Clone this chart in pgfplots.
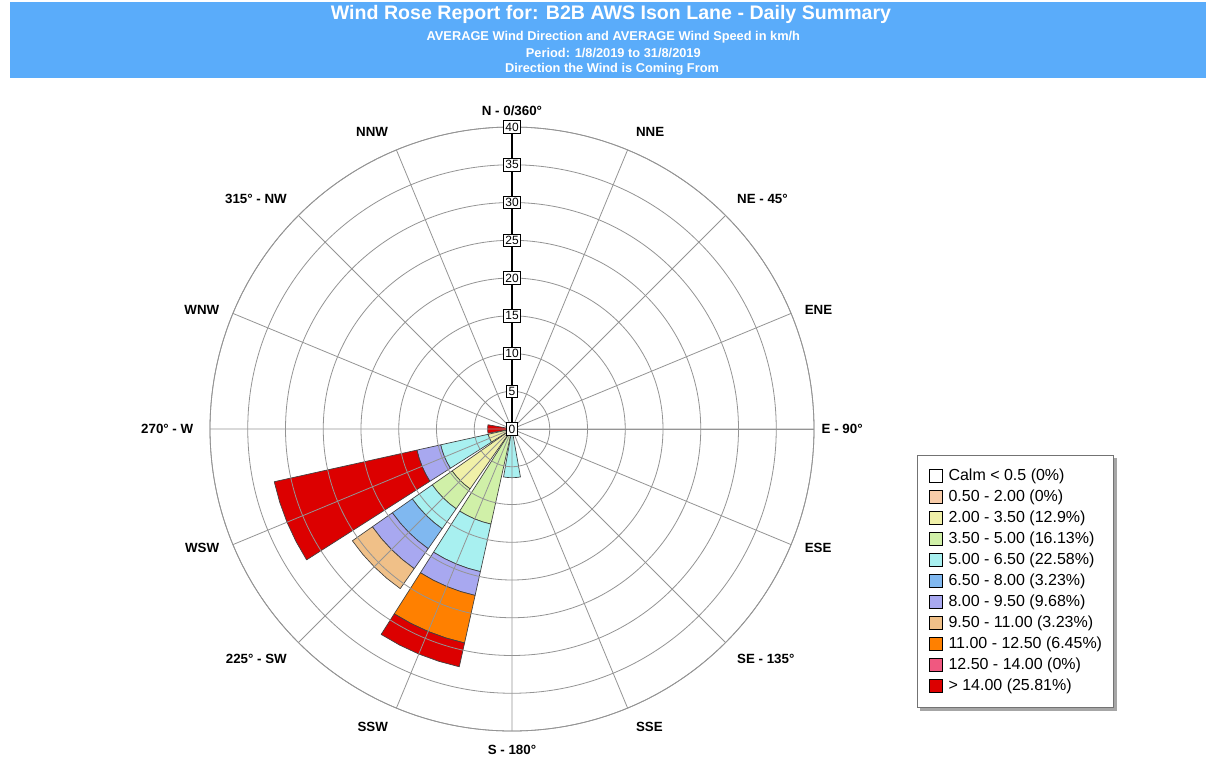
\documentclass[border=0pt]{standalone}
\usepackage{fontspec}
\setmainfont{Liberation Sans}
\usepackage{pgfplots}
\usepackage{pgfplotstable}
\pgfplotsset{compat=1.18}
\usepgfplotslibrary{polar}

\definecolor{band}{RGB}{90,172,250}
\definecolor{cCalm}{RGB}{255,255,255}
\definecolor{cA}{RGB}{248,204,168}
\definecolor{cB}{RGB}{240,240,168}
\definecolor{cC}{RGB}{208,240,168}
\definecolor{cD}{RGB}{168,240,240}
\definecolor{cE}{RGB}{128,184,240}
\definecolor{cF}{RGB}{168,168,240}
\definecolor{cG}{RGB}{240,192,136}
\definecolor{cH}{RGB}{255,128,0}
\definecolor{cI}{RGB}{240,88,128}
\definecolor{cJ}{RGB}{220,0,0}

% outline of one wedge segment: angular offset (deg) and inner(0)/outer(1) edge
\pgfplotstableread{
da w
-10 0
-10 1
-5 1
0 1
5 1
10 1
10 0
5 0
0 0
-5 0
-10 0
}\wedgeshape

% \seg{colour}{compass direction}{from %}{to %}
\newcommand\seg[4]{%
  \addplot[fill=#1, draw=black!75, line width=0.5pt, line join=round, forget plot]
    table[x expr={450-#2+(\thisrow{da})}, y expr={#3+\thisrow{w}*(#4-#3)}]{\wedgeshape};}

\begin{document}
\begin{tikzpicture}
\useasboundingbox (0,0) rectangle (904.5pt,-570pt);
\fill[band] (7.5pt,-1.5pt) rectangle (904.5pt,-58.5pt);
\node[text=white, font=\bfseries\fontsize{14.7}{16}\selectfont] at (458.25pt,-10.5pt) {Wind Rose Report for: B2B AWS Ison Lane - Daily Summary};
\node[text=white, font=\bfseries\fontsize{9.6}{11}\selectfont] at (460pt,-27.75pt) {AVERAGE Wind Direction and AVERAGE Wind Speed in km/h};
\node[text=white, font=\bfseries\fontsize{9.6}{11}\selectfont] at (460pt,-39.75pt) {Period: 1/8/2019 to 31/8/2019};
\node[text=white, font=\bfseries\fontsize{9.6}{11}\selectfont] at (459pt,-51.75pt) {Direction the Wind is Coming From};

\begin{polaraxis}[
  at={(384pt,-321.75pt)}, anchor=center,
  scale only axis, width=453pt, height=453pt,
  xmin=0, xmax=360, ymin=0, ymax=40,
  xtick={0,22.5,...,337.5}, ytick={5,10,...,40},
  xticklabel=\empty, yticklabel=\empty,
  major tick length=0pt,
  grid=major,
  major grid style={black!42, line width=0.6pt},
  axis line style={black!42, line width=0.6pt},
  axis on top, clip=false,
  legend cell align=left,
  legend image code/.code={\draw[#1, draw=black, line width=0.6pt] (0pt,-4.875pt) rectangle (9.75pt,4.875pt);},
  legend style={name=L, at={(1.1705,0.457)}, anchor=north west,
    draw=black!55, line width=0.6pt, fill=white,
    inner xsep=8.5pt, inner ysep=9.75pt, row sep=3.75pt,
    font=\fontsize{12}{14}\selectfont,
    nodes={inner sep=0pt, text height=9pt, text depth=3pt},
    /tikz/every odd column/.append style={column sep=4.5pt}},
]
\addlegendimage{fill=cCalm}\addlegendentry{Calm < 0.5 (0\%)}
\addlegendimage{fill=cA}\addlegendentry{0.50 - 2.00 (0\%)}
\addlegendimage{fill=cB}\addlegendentry{2.00 - 3.50 (12.9\%)}
\addlegendimage{fill=cC}\addlegendentry{3.50 - 5.00 (16.13\%)}
\addlegendimage{fill=cD}\addlegendentry{5.00 - 6.50 (22.58\%)}
\addlegendimage{fill=cE}\addlegendentry{6.50 - 8.00 (3.23\%)}
\addlegendimage{fill=cF}\addlegendentry{8.00 - 9.50 (9.68\%)}
\addlegendimage{fill=cG}\addlegendentry{9.50 - 11.00 (3.23\%)}
\addlegendimage{fill=cH}\addlegendentry{11.00 - 12.50 (6.45\%)}
\addlegendimage{fill=cI}\addlegendentry{12.50 - 14.00 (0\%)}
\addlegendimage{fill=cJ}\addlegendentry{> 14.00 (25.81\%)}

% W
\seg{cJ}{270}{0}{3.23}
% WSW
\seg{cB}{247.5}{0}{3.23}
\seg{cD}{247.5}{3.23}{9.68}
\seg{cF}{247.5}{9.68}{12.90}
\seg{cJ}{247.5}{12.90}{32.26}
% SW
\seg{cB}{225}{0}{9.68}
\seg{cC}{225}{9.68}{12.90}
\seg{cD}{225}{12.90}{16.13}
\seg{cE}{225}{16.13}{19.35}
\seg{cF}{225}{19.35}{22.58}
\seg{cG}{225}{22.58}{25.81}
% SSW
\seg{cC}{202.5}{0}{12.90}
\seg{cD}{202.5}{12.90}{19.35}
\seg{cF}{202.5}{19.35}{22.58}
\seg{cH}{202.5}{22.58}{29.03}
\seg{cJ}{202.5}{29.03}{32.26}
% S
\seg{cD}{180}{0}{6.45}

\pgfplotsinvokeforeach{0,5,...,40}{\coordinate (r#1) at (axis cs:90,#1);}

\begin{scope}[font=\bfseries\fontsize{10}{12}\selectfont]
\node[anchor=south] at (axis cs:90,40.9) {N - 0/360°};
\node[anchor=south west] at (axis cs:67.5,41.3) {NNE};
\node[anchor=south west] at (axis cs:45,41.3) {NE - 45°};
\node[anchor=west] at (axis cs:22.5,41.3) {ENE};
\node[anchor=west] at (axis cs:0,40.4) {E - 90°};
\node[anchor=west] at (axis cs:337.5,41.3) {ESE};
\node[anchor=north west] at (axis cs:315,41.3) {SE - 135°};
\node[anchor=north west] at (axis cs:292.5,41.3) {SSE};
\node[anchor=north] at (axis cs:270,41.3) {S - 180°};
\node[anchor=north east] at (axis cs:247.5,41.3) {SSW};
\node[anchor=north east] at (axis cs:225,41.3) {225° - SW};
\node[anchor=east] at (axis cs:202.5,41.3) {WSW};
\node[anchor=east] at (axis cs:180,41.6) {270° - W};
\node[anchor=east] at (axis cs:157.5,41.3) {WNW};
\node[anchor=south east] at (axis cs:135,41.3) {315° - NW};
\node[anchor=south east] at (axis cs:112.5,41.3) {NNW};
\end{scope}
\end{polaraxis}

\fill[black!35] ([xshift=0.3pt,yshift=-2.4pt]L.north east) rectangle ([xshift=2.4pt,yshift=-2.4pt]L.south east);
\fill[black!35] ([xshift=2.4pt,yshift=-0.3pt]L.south west) rectangle ([xshift=2.4pt,yshift=-2.4pt]L.south east);

\draw[black, line width=0.8pt] (r0) -- (r40);
\foreach \r in {0,5,...,40}
  \node[draw=black, fill=white, line width=0.5pt, inner sep=1.5pt, font=\fontsize{9}{10}\selectfont] at (r\r) {\r};
\end{tikzpicture}
\end{document}
